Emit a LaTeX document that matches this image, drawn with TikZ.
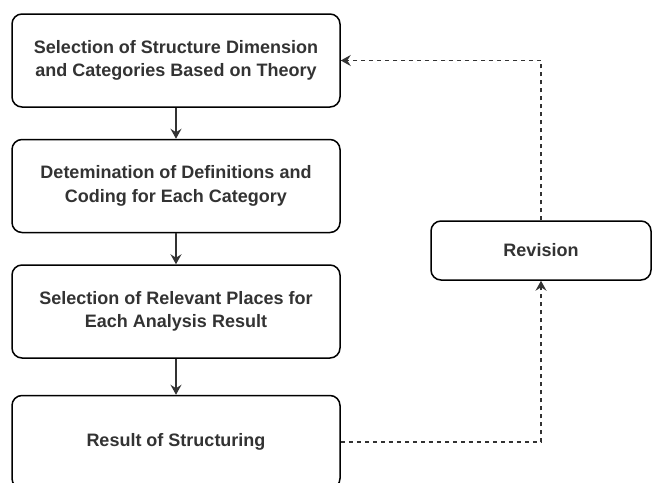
\documentclass[tikz,border=0pt]{standalone}
\usepackage{fontspec}
\setmainfont{Liberation Sans}
\usepackage{tikz}
\usetikzlibrary{shapes,arrows,arrows.meta}
\usetikzlibrary{positioning}
\definecolor{txt}{HTML}{333333}
\tikzset{auto,>={Stealth[length=10pt,width=11pt,inset=3.5pt]}, x=1pt, y=-1pt, font=\bfseries\fontsize{18}{23.4}\selectfont}
\tikzstyle{block} = [draw, line width=1.5pt, rounded corners=10pt, fill=white, rectangle, minimum height=93pt, minimum width=328pt, text=txt, text centered, align=center]
\tikzstyle{revbox} = [block, minimum height=59pt, minimum width=220pt]
\tikzstyle{flow} = [->, line width=1.2pt, draw=txt]
\tikzstyle{back} = [->, line width=1.2pt, draw=txt, dash pattern=on 4pt off 4pt]

\begin{document}
\begin{tikzpicture}
		\useasboundingbox (0,0) rectangle (653,482);
		\node [block] (select) at (176,60.5) {Selection of Structure Dimension\\and Categories Based on Theory};
		\node [block, below=31pt of select] (define) {Detemination of Definitions and\\Coding for Each Category};
		\node [block, below=31pt of define] (places) {Selection of Relevant Places for\\Each Analysis Result};
		\node [block, below=36pt of places] (result) {Result of Structuring};
		\node [revbox] (revision) at (541,250.5) {Revision};

		\draw [flow] (select) -- (define);
		\draw [flow] (define) -- (places);
		\draw [flow] (places) -- (result);

		\draw [back] (result.east) -| (revision.south);
		\draw [back] (revision.north) |- (select.east);
	\end{tikzpicture}
\end{document}
